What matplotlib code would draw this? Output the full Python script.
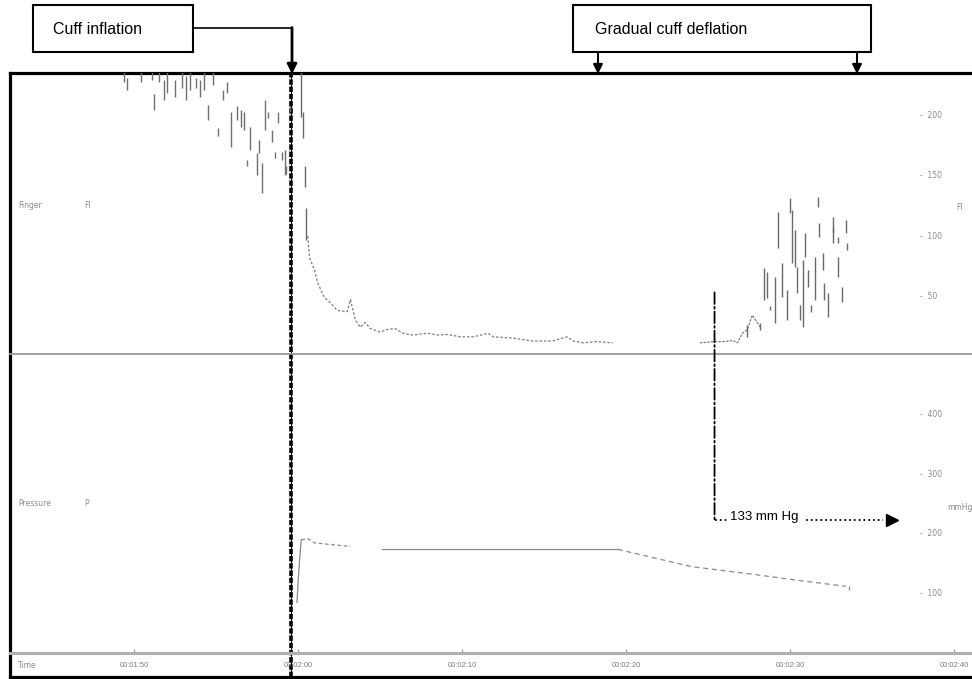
import matplotlib
matplotlib.use("Agg")
import matplotlib.pyplot as plt
from matplotlib.patches import Rectangle, ConnectionPatch
from matplotlib.ticker import FuncFormatter

plt.rcParams['font.family'] = ['Liberation Sans', 'DejaVu Sans']

# finger signal before cuff inflation: time (s), bar low, bar high
pre_t = [109.4, 109.6, 110.4, 111.1, 111.2, 111.5, 111.8, 112.0, 112.5, 112.9,
         113.2, 113.4, 113.8, 114.0, 114.3, 114.5, 114.8, 115.1, 115.4, 115.7,
         115.9, 116.3, 116.5, 116.7, 116.9, 117.1, 117.5, 117.6, 117.8, 118.0,
         118.2, 118.4, 118.6, 118.8, 119.0, 119.2, 119.3, 119.5]
pre_lo = [228, 222, 228, 230, 205, 228, 213, 219, 216, 223,
          213, 222, 223, 216, 222, 197, 226, 183, 213, 219,
          174, 197, 191, 188, 158, 172, 151, 169, 136, 188,
          198, 178, 165, 194, 163, 151, 152, 203]
pre_hi = [240, 232, 240, 240, 218, 240, 230, 240, 230, 240,
          233, 240, 232, 230, 240, 209, 240, 190, 222, 228,
          203, 208, 205, 203, 163, 191, 169, 180, 161, 213,
          203, 188, 170, 203, 170, 172, 158, 208]

# finger signal drop right after inflation
drop_t = [120.2, 120.3, 120.4, 120.5]
drop_lo = [199, 182, 141, 97]
drop_hi = [240, 203, 158, 123]

# finger signal during occlusion (slow decay)
decay_t = [120.6, 120.7, 121.0, 121.2, 121.6, 122.0, 122.4, 123.0, 123.2, 123.5,
           123.8, 124.1, 124.4, 125.0, 125.4, 125.9, 126.4, 127.0, 127.9, 128.5,
           129.1, 129.9, 130.7, 131.6, 131.9, 133.1, 134.3, 135.5, 136.4, 136.8,
           137.4, 138.2, 139.2]
decay_v = [100, 82, 72, 61, 49, 44, 38, 37, 47, 30,
           24, 28, 23, 20, 22, 23, 19, 17.5, 19, 17.5,
           18, 16, 16, 19, 16, 15, 12.5, 12.5, 16, 12.5,
           11, 12, 11]

# finger signal returning during deflation
ret_t = [144.5, 145.3, 146.0, 146.5, 146.8, 147.1, 147.4, 147.7, 148.2]
ret_v = [11, 12, 12, 13, 11, 19, 22, 34, 24]

ret_bar_t = [147.4, 148.2, 148.4, 148.6, 148.8, 149.1, 149.3, 149.5, 149.8, 150.0,
             150.1, 150.3, 150.4, 150.6, 150.8, 150.9, 151.1, 151.3, 151.5, 151.7,
             151.8, 152.0, 152.1, 152.3, 152.6, 152.65, 152.9, 152.95, 153.2, 153.4,
             153.5]
ret_bar_lo = [16, 22, 47, 48, 38, 27.5, 90, 49, 30, 119,
              77.5, 74, 52.5, 30, 24, 82.5, 57.5, 37, 47, 124,
              99, 72, 47, 32.5, 94, 102.5, 94, 66, 45, 102.5,
              88]
ret_bar_hi = [26, 27.5, 73, 70, 42, 66, 120, 77.5, 55, 132,
              122, 105, 74, 42.5, 80, 102.5, 72, 42.5, 82.5, 132.5,
              111, 86, 61, 52.5, 107.5, 116, 99, 82.5, 57.5, 113,
              94]

# cuff pressure (mmHg)
rise_t = [119.94, 120.0, 120.1, 120.2]
rise_p = [85, 115, 157, 190]
peak_t = [120.2, 120.6, 121.0, 122.0, 123.2]
peak_p = [190, 192, 185, 182, 179]
hold_t = [125.1, 131.2, 131.2, 139.5]
hold_p = [175, 175, 174, 174]
defl_t = [139.5, 144.0, 147.8, 150.2, 153.4]
defl_p = [174, 145, 132, 123, 112]

time_ticks = [110, 120, 130, 140, 150, 160]
finger_ticks = [50, 100, 150, 200]
press_ticks = [100, 200, 300, 400]

inflation_t = 119.6
sys_t = 145.4          # onset of returning pulse
sys_top = 53           # start of marker in finger panel
sys_p = 224            # level of the arrow in pressure panel
arrow_end_t = 156.2

W, H = 972, 679
T0, T1 = 102.44, 161.1


def px_rect(x0, y0, x1, y1):
    return [x0 / W, 1 - y1 / H, (x1 - x0) / W, (y1 - y0) / H]


fig = plt.figure(figsize=(W / 100, H / 100), dpi=100)

frame = fig.add_axes(px_rect(10, 73, 972, 677))
frame.set_xlim(T0, T1)
frame.set_ylim(0, 1)
frame.set_xticks([])
frame.set_yticks([])
for s in ['left', 'top', 'bottom']:
    frame.spines[s].set_linewidth(2.3)
frame.spines['right'].set_visible(False)

top = fig.add_axes(px_rect(10, 73, 972, 354))
bot = fig.add_axes(px_rect(10, 354, 972, 653))
for ax in (top, bot):
    ax.set_facecolor('none')
    ax.set_xlim(T0, T1)
    for s in ['left', 'top', 'right']:
        ax.spines[s].set_visible(False)
    ax.set_yticks([])

top.set_ylim(1.7, 235.8)
top.set_xticks([])
top.spines['bottom'].set_color('#9a9a9a')
top.spines['bottom'].set_linewidth(1.3)

bot.set_ylim(0, 502)
bot.spines['bottom'].set_color('#b0b0b0')
bot.spines['bottom'].set_linewidth(2.2)
bot.set_xticks(time_ticks)
bot.xaxis.set_major_formatter(FuncFormatter(lambda t, _: f"00:{int(t) // 60:02d}:{int(t) % 60:02d}"))
bot.tick_params(axis='x', direction='in', length=3, color='#888888',
                labelsize=5.5, labelcolor='#7a7a7a', pad=6.5)

# finger trace
top.vlines(pre_t, pre_lo, pre_hi, color='#707070', lw=1.0)
top.vlines(drop_t, drop_lo, drop_hi, color='#6a6a6a', lw=1.0)
top.plot(decay_t, decay_v, color='#7c7c7c', lw=0.9, ls=(0, (2, 1.5)))
top.plot(ret_t, ret_v, color='#7c7c7c', lw=0.9, ls=(0, (2, 1)))
top.vlines(ret_bar_t, ret_bar_lo, ret_bar_hi, color='#6a6a6a', lw=1.0)

# pressure trace
bot.plot(rise_t, rise_p, color='#8a8a8a', lw=0.9)
bot.plot(peak_t, peak_p, color='#8a8a8a', lw=0.9, ls=(0, (3, 2)))
bot.plot(hold_t, hold_p, color='#8a8a8a', lw=0.9)
bot.plot(defl_t, defl_p, color='#8a8a8a', lw=0.9, ls=(0, (4, 3)))
bot.vlines(defl_t[-1] + 0.2, defl_p[-1] - 6, defl_p[-1], color='#8a8a8a', lw=0.9)

# right-hand scale labels
for v in finger_ticks:
    top.text(0.946, v, f"-  {v}", transform=top.get_yaxis_transform(),
             fontsize=5.5, color='#8a8a8a', family='DejaVu Sans', va='center')
for v in press_ticks:
    bot.text(0.946, v, f"-  {v}", transform=bot.get_yaxis_transform(),
             fontsize=5.5, color='#8a8a8a', family='DejaVu Sans', va='center')

# cuff inflation line through the whole record
frame.axvline(inflation_t, color='k', lw=2.6, ls=(0, (1.5, 0.5)))
frame.axvline(inflation_t, color='k', lw=0.7)

# systolic marker: onset of pulse -> cuff pressure
con = ConnectionPatch(xyA=(sys_t, sys_top), coordsA=top.transData,
                      xyB=(sys_t, sys_p), coordsB=bot.transData,
                      color='k', lw=1.3, ls='-.')
fig.add_artist(con)
bot.plot([sys_t, sys_t + 0.9], [sys_p, sys_p], color='k', lw=1.3, ls=':')
bot.plot([sys_t + 5.6, arrow_end_t - 0.5], [sys_p, sys_p], color='k', lw=1.3, ls=':')
bot.plot([arrow_end_t], [sys_p], marker='>', ms=8, color='k')
bot.text(sys_t + 0.95, sys_p, "133 mm Hg", fontsize=9.5, va='baseline', ha='left')

# overlay for channel labels and callouts (pixel layout)
ov = fig.add_axes([0, 0, 1, 1])
ov.set_xlim(0, W)
ov.set_ylim(H, 0)
ov.axis('off')

lab = dict(fontsize=5.5, color='#8a8a8a', family='DejaVu Sans', va='center')
ov.text(18, 206, "Finger", **lab)
ov.text(84, 206, "FI", **lab)
ov.text(956, 207, "FI", **lab)
ov.text(18, 503, "Pressure", **lab)
ov.text(84, 503, "P", **lab)
ov.text(947, 508, "mmHg", **lab)
ov.text(18, 665, "Time", **lab)

ov.add_patch(Rectangle((33, 5), 160, 47, fill=False, lw=1.5, ec='k'))
ov.text(53, 29, "Cuff inflation", fontsize=11.5, va='center', ha='left')
ov.plot([193, 292], [28, 28], color='k', lw=1.2)
ov.annotate('', xy=(292, 74), xytext=(292, 27.5),
            arrowprops=dict(arrowstyle='-|>', mutation_scale=14, lw=2, color='k',
                            shrinkA=0, shrinkB=0))

ov.add_patch(Rectangle((573, 5), 298, 47, fill=False, lw=1.5, ec='k'))
ov.text(595, 29, "Gradual cuff deflation", fontsize=11.5, va='center', ha='left')
for xa in (598, 857):
    ov.annotate('', xy=(xa, 74), xytext=(xa, 52),
                arrowprops=dict(arrowstyle='-|>', mutation_scale=14, lw=1.5, color='k',
                                shrinkA=0, shrinkB=0))

fig.savefig("out.png", dpi=100)
